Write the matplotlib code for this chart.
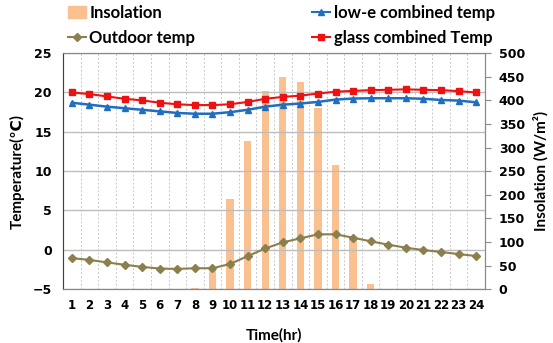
import numpy as np
import matplotlib
matplotlib.use("Agg")
import matplotlib.pyplot as plt
from matplotlib.lines import Line2D
from matplotlib.patches import Patch

hours = list(range(1, 25))

insolation = [0, 0, 0, 0, 0, 0, 0, 2, 44, 191, 314, 420, 449, 438, 384, 262,
              107, 11, 1, 0, 0, 0, 0, 0]
outdoor = [-1.06, -1.28, -1.6, -1.9, -2.17, -2.38, -2.43, -2.34, -2.34, -1.8,
           -0.8, 0.17, 0.95, 1.46, 1.97, 1.97, 1.54, 1.08, 0.65, 0.27,
           -0.03, -0.28, -0.54, -0.79]
lowe = [18.7, 18.45, 18.2, 18.0, 17.8, 17.6, 17.4, 17.3, 17.3, 17.5, 17.8,
        18.2, 18.45, 18.6, 18.8, 19.1, 19.23, 19.27, 19.27, 19.27, 19.2,
        19.05, 18.97, 18.75]
glass = [20.0, 19.8, 19.5, 19.2, 19.0, 18.7, 18.5, 18.4, 18.4, 18.5, 18.8,
         19.2, 19.44, 19.6, 19.87, 20.1, 20.2, 20.3, 20.34, 20.4, 20.34,
         20.3, 20.17, 20.0]

bar_color = "#FAC090"
blue = "#1F6EBF"
red = "#EE1111"
olive = "#8C7F4E"
lab_font = ["Lato", "DejaVu Sans"]

fig = plt.figure(figsize=(5.53, 3.43), dpi=100)
ax = fig.add_axes([0.114, 0.157, 0.763, 0.688])
ax2 = ax.twinx()

# bars on the right axis, drawn below the temperature lines
ax2.bar(hours, insolation, width=0.42, color=bar_color, zorder=1)
ax2.set_ylim(0, 500)
ax2.set_yticks(np.arange(0, 501, 50))
ax.set_zorder(ax2.get_zorder() + 1)
ax.patch.set_visible(False)

ax.plot(hours, outdoor, color=olive, marker="D", markersize=4, lw=1.5)
ax.plot(hours, lowe, color=blue, marker="^", markersize=5, lw=1.8)
ax.plot(hours, glass, color=red, marker="s", markersize=4, lw=1.5)

ax.set_ylim(-5, 25)
ax.set_yticks(np.arange(-5, 26, 5))
ax.set_xlim(0.5, 24.5)
ax.set_xticks(hours)
ax.set_xticks(np.arange(1.5, 24, 1), minor=True)
ax.grid(axis="y", color="#BDBDBD", lw=1)
ax.grid(axis="x", which="minor", color="#C8C8C8", lw=0.7, ls=(0, (2, 2)))
ax.tick_params(axis="x", which="both", length=0, pad=7)
ax.tick_params(axis="y", length=0, pad=8)
ax2.tick_params(axis="y", length=4, color="#888888", pad=6)

for a in (ax, ax2):
    for s in a.spines.values():
        s.set_color("#888888")
ax.spines["left"].set_color("#404040")

for lab in ax.get_yticklabels() + ax2.get_yticklabels():
    lab.set_fontweight("bold")
    lab.set_fontsize(9)
for lab in ax.get_xticklabels():
    lab.set_fontweight("bold")
    lab.set_fontsize(8.5)

ax.set_xlabel("Time(hr)", family=lab_font, fontweight="bold", fontsize=11, labelpad=12)
ax.set_ylabel("Temperature(\u2103)", family=lab_font, fontweight="bold",
              fontsize=11, labelpad=6)
ax2.set_ylabel("Insolation (W/m\u00b2)", family=lab_font, fontweight="bold",
               fontsize=11, labelpad=6)

handles = [
    Patch(color=bar_color, label="Insolation"),
    Line2D([], [], color=olive, marker="D", markersize=4, label="Outdoor temp"),
    Line2D([], [], color=blue, marker="^", markersize=5, label="low-e combined temp"),
    Line2D([], [], color=red, marker="s", markersize=4, label="glass combined Temp"),
]
fig.legend(handles=handles, ncol=2, loc="upper left", bbox_to_anchor=(0.095, 1.03),
           frameon=False, prop={"family": lab_font, "weight": "bold", "size": 12},
           columnspacing=7.0, handlelength=1.1, handletextpad=0.2,
           labelspacing=0.55)

fig.savefig("out.png", dpi=100)
